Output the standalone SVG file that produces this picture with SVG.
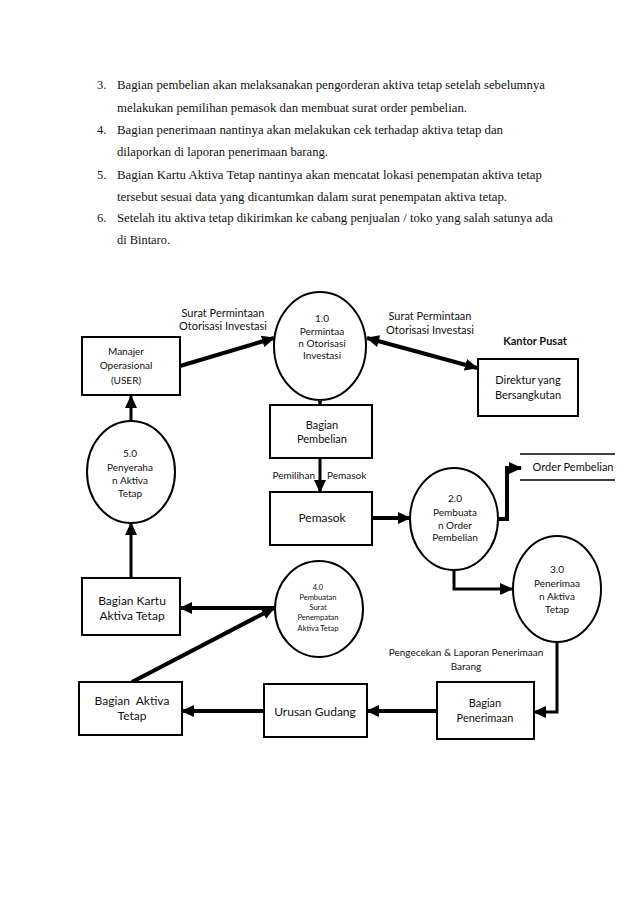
<svg xmlns="http://www.w3.org/2000/svg" width="638" height="903" viewBox="0 0 638 903">
<style>
.p{font-family:"Liberation Serif","Times New Roman",serif;font-size:12.5px;fill:#111}
.t{font-family:Lato,"Liberation Sans",sans-serif;fill:#111;text-anchor:middle}
.s10{font-size:10px}.s11{font-size:11px}.s12{font-size:12px}.s8{font-size:7.5px}
.b{fill:#fff;stroke:#000;stroke-width:2}
.c{stroke:#000;fill:none}
.w4{stroke-width:4}.w3{stroke-width:3}
</style>
<defs>
<marker id="ah" markerUnits="userSpaceOnUse" markerWidth="14" markerHeight="12" refX="12" refY="6" orient="auto"><path d="M0,0 L13,6 L0,12 z" fill="#000"/></marker>
<marker id="as" markerUnits="userSpaceOnUse" markerWidth="14" markerHeight="12" refX="1" refY="6" orient="auto"><path d="M13,0 L0,6 L13,12 z" fill="#000"/></marker>
</defs>
<rect width="638" height="903" fill="#fff"/>
<g id="text">
<text class="p" x="97" y="89">3.</text>
<text class="p" x="117" y="89" textLength="428" lengthAdjust="spacingAndGlyphs">Bagian pembelian akan melaksanakan pengorderan aktiva tetap setelah sebelumnya</text>
<text class="p" x="117" y="112" textLength="350" lengthAdjust="spacingAndGlyphs">melakukan pemilihan pemasok dan membuat surat order pembelian.</text>
<text class="p" x="97" y="134">4.</text>
<text class="p" x="117" y="134" textLength="386" lengthAdjust="spacingAndGlyphs">Bagian penerimaan nantinya akan melakukan cek terhadap aktiva tetap dan</text>
<text class="p" x="117" y="156" textLength="211" lengthAdjust="spacingAndGlyphs">dilaporkan di laporan penerimaan barang.</text>
<text class="p" x="97" y="179">5.</text>
<text class="p" x="117" y="179" textLength="425" lengthAdjust="spacingAndGlyphs">Bagian Kartu Aktiva Tetap nantinya akan mencatat lokasi penempatan aktiva tetap</text>
<text class="p" x="117" y="201" textLength="390" lengthAdjust="spacingAndGlyphs">tersebut sesuai data yang dicantumkan dalam surat penempatan aktiva tetap.</text>
<text class="p" x="97" y="222">6.</text>
<text class="p" x="117" y="222" textLength="436" lengthAdjust="spacingAndGlyphs">Setelah itu aktiva tetap dikirimkan ke cabang penjualan / toko yang salah satunya ada</text>
<text class="p" x="117" y="244" textLength="53" lengthAdjust="spacingAndGlyphs">di Bintaro.</text>
</g>
<g id="connectors">
<line class="c w4" x1="180" y1="366" x2="274" y2="338" marker-end="url(#ah)"/>
<line class="c w4" x1="367" y1="338" x2="477" y2="368" marker-start="url(#as)" marker-end="url(#ah)"/>
<line class="c w3" x1="320" y1="400" x2="320" y2="405" marker-end="url(#ah)"/>
<line class="c w3" x1="320" y1="458" x2="320" y2="492" marker-end="url(#ah)"/>
<line class="c w4" x1="372" y1="518" x2="410" y2="518" marker-end="url(#ah)"/>
<polyline class="c w4" points="498,519 507,519 507,468 521,468" marker-end="url(#ah)"/>
<polyline class="c w3" points="454,568 454,589 512,589" marker-end="url(#ah)"/>
<polyline class="c w3" points="557,642 557,712 534,712" marker-end="url(#ah)"/>
<line class="c w4" x1="437" y1="711" x2="367" y2="711" marker-end="url(#ah)"/>
<line class="c w4" x1="264" y1="711" x2="182" y2="711" marker-end="url(#ah)"/>
<line class="c w4" x1="275" y1="608" x2="180" y2="608" marker-end="url(#ah)"/>
<line class="c w4" x1="132" y1="682" x2="274" y2="608" marker-end="url(#ah)"/>
<line class="c w3" x1="131" y1="578" x2="131" y2="523" marker-end="url(#ah)"/>
<line class="c w3" x1="131" y1="422" x2="131" y2="396" marker-end="url(#ah)"/>
<text class="t s11" x="223" y="317">Surat Permintaan</text>
<text class="t s11" x="223" y="330">Otorisasi Investasi</text>
<text class="t s11" x="430" y="320">Surat Permintaan</text>
<text class="t s11" x="430" y="334">Otorisasi Investasi</text>
<text class="t s10" x="315" y="479" style="text-anchor:end">Pemilihan</text>
<text class="t s10" x="327" y="479" style="text-anchor:start">Pemasok</text>
<text class="t s10" x="466" y="656">Pengecekan &amp; Laporan Penerimaan</text>
<text class="t s10" x="466" y="670">Barang</text>
</g>
<g id="manajer">
<rect class="b" x="82" y="337" width="98" height="58"/>
<text class="t s10" x="126" y="355">Manajer</text>
<text class="t s10" x="126" y="369">Operasional</text>
<text class="t s10" x="126" y="384">(USER)</text>
</g>
<g id="p1">
<ellipse class="b" cx="320" cy="346" rx="46" ry="54"/>
<text class="t s10" x="322" y="322">1.0</text>
<text class="t s10" x="322" y="335">Permintaa</text>
<text class="t s10" x="322" y="347">n Otorisasi</text>
<text class="t s10" x="322" y="359">Investasi</text>
</g>
<g id="kantor">
<text class="t s11" x="535" y="345" style="font-weight:bold">Kantor Pusat</text>
</g>
<g id="direktur">
<rect class="b" x="478" y="359" width="100" height="57"/>
<text class="t s11" x="528" y="384">Direktur yang</text>
<text class="t s11" x="528" y="399">Bersangkutan</text>
</g>
<g id="pembelian">
<rect class="b" x="270" y="405" width="102" height="53"/>
<text class="t s11" x="322" y="429">Bagian</text>
<text class="t s11" x="322" y="443">Pembelian</text>
</g>
<g id="pemasok">
<rect class="b" x="270" y="492" width="102" height="53"/>
<text class="t s12" x="322" y="522">Pemasok</text>
</g>
<g id="p2">
<ellipse class="b" cx="454" cy="519" rx="44" ry="51"/>
<text class="t s10" x="455" y="502">2.0</text>
<text class="t s10" x="455" y="516">Pembuata</text>
<text class="t s10" x="455" y="529">n Order</text>
<text class="t s10" x="455" y="541">Pembelian</text>
</g>
<g id="order">
<line class="c" stroke-width="1.3" x1="520" y1="454" x2="615" y2="454"/>
<line class="c" stroke-width="1.3" x1="520" y1="480" x2="615" y2="480"/>
<text class="t s11" x="573" y="471">Order Pembelian</text>
</g>
<g id="p5">
<ellipse class="b" cx="131" cy="472" rx="44" ry="51"/>
<text class="t s10" x="130" y="457">5.0</text>
<text class="t s10" x="130" y="471">Penyeraha</text>
<text class="t s10" x="130" y="484">n Aktiva</text>
<text class="t s10" x="130" y="497">Tetap</text>
</g>
<g id="p3">
<ellipse class="b" cx="557" cy="589" rx="44" ry="53"/>
<text class="t s10" x="557" y="573">3.0</text>
<text class="t s10" x="557" y="587">Penerimaa</text>
<text class="t s10" x="557" y="600">n Aktiva</text>
<text class="t s10" x="557" y="613">Tetap</text>
</g>
<g id="kartu">
<rect class="b" x="82" y="578" width="98" height="57"/>
<text class="t s12" x="132" y="605">Bagian Kartu</text>
<text class="t s12" x="132" y="620">Aktiva Tetap</text>
</g>
<g id="p4">
<ellipse class="b" cx="319" cy="609" rx="44" ry="48"/>
<text class="t s8" x="318" y="590">4.0</text>
<text class="t s8" x="318" y="600">Pembuatan</text>
<text class="t s8" x="318" y="610">Surat</text>
<text class="t s8" x="318" y="620">Penempatan</text>
<text class="t s8" x="318" y="631">Aktiva Tetap</text>
</g>
<g id="aktiva">
<rect class="b" x="79" y="682" width="103" height="53"/>
<text class="t s12" x="132" y="705" xml:space="preserve">Bagian  Aktiva</text>
<text class="t s12" x="132" y="720">Tetap</text>
</g>
<g id="gudang">
<rect class="b" x="264" y="684" width="103" height="53"/>
<text class="t s12" x="315" y="716">Urusan Gudang</text>
</g>
<g id="penerimaan">
<rect class="b" x="437" y="682" width="97" height="57"/>
<text class="t s11" x="485" y="707">Bagian</text>
<text class="t s11" x="485" y="722">Penerimaan</text>
</g>
</svg>
